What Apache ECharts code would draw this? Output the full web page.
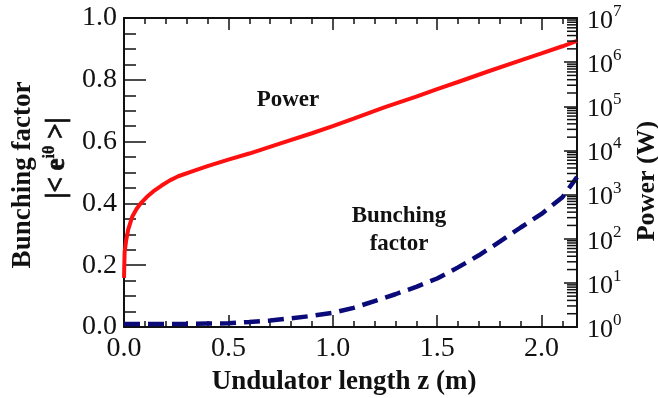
<!DOCTYPE html>
<html>
<head>
<meta charset="utf-8">
<script src="https://cdn.jsdelivr.net/npm/echarts@6/dist/echarts.min.js"></script>
<style>
  html, body { margin: 0; padding: 0; background: #fff; }
  #chart { width: 658px; height: 398px; }
</style>
</head>
<body>
<div id="chart"></div>
<script>
// Undulator position (m) and FEL power (W)
const zPower = [0, 0.003, 0.01, 0.02, 0.04, 0.06, 0.08, 0.11, 0.14, 0.18, 0.22, 0.26, 0.33, 0.4,
  0.5, 0.6, 0.75, 0.9, 1.0, 1.1, 1.25, 1.4, 1.5, 1.6, 1.75, 1.9, 2.0, 2.1, 2.17];
const power = [13, 50, 89, 160, 320, 470, 630, 890, 1180, 1600, 2100, 2600, 3400, 4400,
  6200, 8500, 14500, 24500, 35500, 52500, 95500, 166000, 245000, 355000, 630000, 1100000,
  1580000, 2290000, 3020000];

// Undulator position (m) and bunching factor |<e^{i theta}>|
const zBunch = [0, 0.1, 0.2, 0.3, 0.4, 0.5, 0.6, 0.7, 0.8, 0.9, 1.0, 1.1, 1.2, 1.3, 1.4, 1.5,
  1.6, 1.7, 1.8, 1.9, 2.0, 2.1, 2.17];
const bunching = [0.010, 0.010, 0.010, 0.010, 0.011, 0.012, 0.016, 0.021, 0.028, 0.036, 0.046,
  0.062, 0.084, 0.106, 0.130, 0.157, 0.193, 0.232, 0.276, 0.322, 0.366, 0.420, 0.485];

// Axis ranges
const zMax = 2.17;
const powerDecades = [0, 1, 2, 3, 4, 5, 6, 7];
const logMinorMultipliers = [2, 3, 4, 5, 6, 7, 8, 9];

const FONT = 'Liberation Serif';
const INK = '#111';
const TICK_FONT = 28;

// Minor ticks of the log power axis (2..9 within each decade)
const logMinor = [];
powerDecades.slice(0, -1).forEach(function (e) {
  logMinorMultipliers.forEach(function (k) { logMinor.push([0, k * Math.pow(10, e)]); });
});

const chart = echarts.init(document.getElementById('chart'), null, { renderer: 'canvas' });

const frameLine = { show: true, onZero: false, lineStyle: { color: INK, width: 2 } };

function xAxisDef(position, interval, tickLen, withLabels, withLine) {
  return {
    type: 'value', position: position, min: 0, max: zMax, interval: interval,
    axisLine: withLine ? frameLine : { show: false },
    axisTick: { show: true, inside: true, length: tickLen, lineStyle: { color: INK, width: 1.5 } },
    axisLabel: withLabels ? {
      show: true, margin: 8, color: INK, fontFamily: FONT, fontSize: TICK_FONT,
      showMaxLabel: false,
      formatter: function (v) { return v.toFixed(1); }
    } : { show: false },
    splitLine: { show: false }
  };
}

const centered = { align: 'center', verticalAlign: 'middle', textAlign: 'center', textVerticalAlign: 'middle' };

const option = {
  animation: false,
  backgroundColor: '#fff',
  textStyle: { fontFamily: FONT },
  grid: { left: 124, right: 81, top: 18, bottom: 71, containLabel: false },
  xAxis: [
    xAxisDef('bottom', 0.5, 12, true, true),
    xAxisDef('bottom', 0.1, 6, false, false),
    xAxisDef('top', 0.5, 12, false, true),
    xAxisDef('top', 0.1, 6, false, false)
  ],
  yAxis: [
    {
      type: 'value', position: 'left', min: 0, max: 1, interval: 0.2,
      axisLine: frameLine,
      axisTick: { show: true, inside: true, length: 22, lineStyle: { color: INK, width: 1.5 } },
      minorTick: { show: true, splitNumber: 4, length: 12, lineStyle: { color: INK, width: 1.5 } },
      axisLabel: {
        margin: 7, color: INK, fontFamily: FONT, fontSize: TICK_FONT,
        formatter: function (v) { return v.toFixed(1); }
      },
      splitLine: { show: false }
    },
    {
      type: 'log', logBase: 10, position: 'right', min: 1, max: 1e7, splitNumber: 7,
      axisLine: frameLine,
      axisTick: { show: true, inside: true, length: 13, lineStyle: { color: INK, width: 1.5 } },
      axisLabel: {
        margin: 10, color: INK, fontFamily: FONT, fontSize: 26,
        formatter: function (v) {
          const e = Math.round(Math.log10(v));
          return '{b|10}{s|' + e + '}';
        },
        rich: {
          b: { fontFamily: FONT, fontSize: 26, color: INK, lineHeight: 30, padding: [6, 0, 0, 0] },
          s: { fontFamily: FONT, fontSize: 17, color: INK, verticalAlign: 'top', lineHeight: 17 }
        }
      },
      splitLine: { show: false }
    }
  ],
  series: [
    {
      name: 'Power', type: 'line', xAxisIndex: 0, yAxisIndex: 1,
      data: zPower.map(function (z, i) { return [z, power[i]]; }),
      showSymbol: false, symbol: 'none', smooth: false,
      lineStyle: { color: '#ff1010', width: 4 }, z: 3
    },
    {
      name: 'Bunching factor', type: 'line', xAxisIndex: 0, yAxisIndex: 0,
      data: zBunch.map(function (z, i) { return [z, bunching[i]]; }),
      showSymbol: false, symbol: 'none', smooth: false,
      lineStyle: { color: '#0a0a78', width: 4.5, type: [16, 8] }, z: 3
    },
    {
      // short inward ticks at 2..9 x 10^n on the right-hand power axis
      name: 'logMinorTicks', type: 'custom', xAxisIndex: 0, yAxisIndex: 1,
      data: logMinor, silent: true, clip: false, z: 4,
      renderItem: function (params, api) {
        const cs = params.coordSys;
        const y = api.coord([0, api.value(1)])[1];
        const xr = cs.x + cs.width;
        return {
          type: 'line',
          shape: { x1: xr - 10, y1: y, x2: xr, y2: y },
          style: { stroke: INK, lineWidth: 1.5 }
        };
      }
    }
  ],
  graphic: [
    {
      type: 'text', x: 344, y: 382, silent: true,
      style: Object.assign({ text: 'Undulator length z (m)', font: 'bold 27px ' + FONT, fill: INK }, centered)
    },
    {
      type: 'text', x: 23, y: 175, rotation: Math.PI / 2, silent: true,
      style: Object.assign({ text: 'Bunching factor', font: 'bold 27px ' + FONT, fill: INK }, centered)
    },
    {
      type: 'text', x: 57, y: 158, rotation: Math.PI / 2, silent: true,
      style: Object.assign({
        text: '{m||< e}{s|iθ}{m| >|}',
        fontFamily: FONT, fontWeight: 'bold', fontSize: 27, fill: INK,
        stroke: INK, lineWidth: 0.8,
        rich: {
          m: { fontFamily: FONT, fontWeight: 'bold', fontSize: 27, fill: INK, stroke: INK, lineWidth: 0.8, lineHeight: 30 },
          s: { fontFamily: FONT, fontWeight: 'bold', fontSize: 16, fill: INK, stroke: INK, lineWidth: 0.4, verticalAlign: 'top', lineHeight: 16 }
        }
      }, centered)
    },
    {
      type: 'text', x: 647, y: 181, rotation: Math.PI / 2, silent: true,
      style: Object.assign({ text: 'Power (W)', font: 'bold 26px ' + FONT, fill: INK }, centered)
    },
    {
      type: 'text', x: 288, y: 100, silent: true,
      style: Object.assign({ text: 'Power', font: 'bold 23px ' + FONT, fill: INK }, centered)
    },
    {
      type: 'text', x: 399, y: 230, silent: true,
      style: Object.assign({ text: 'Bunching\nfactor', font: 'bold 23px ' + FONT, fill: INK, lineHeight: 28 }, centered)
    }
  ]
};

chart.setOption(option);
</script>
</body>
</html>
